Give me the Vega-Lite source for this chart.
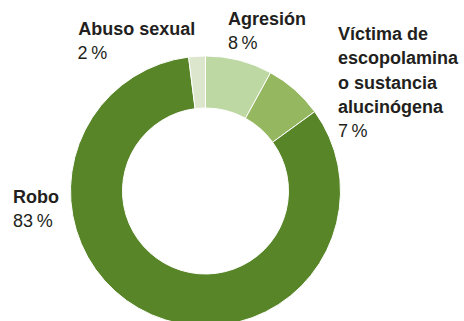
{
  "$schema": "https://vega.github.io/schema/vega-lite/v6.json",
  "width": 411,
  "height": 260,
  "autosize": {"type": "none"},
  "padding": {"left": 0, "top": 61, "right": 53, "bottom": 0},
  "background": "white",
  "config": {"view": {"stroke": null}},
  "data": {
    "values": [
      {"cat": "Agresión", "label": "Agresión", "pct": 8, "pctText": "8\u2009%", "orden": 1},
      {"cat": "Víctima", "label": "Víctima de\nescopolamina\no sustancia\nalucinógena", "pct": 7, "pctText": "7\u2009%", "orden": 2},
      {"cat": "Robo", "label": "Robo", "pct": 83, "pctText": "83\u2009%", "orden": 3},
      {"cat": "Abuso", "label": "Abuso sexual", "pct": 2, "pctText": "2\u2009%", "orden": 4}
    ]
  },
  "encoding": {
    "theta": {"field": "pct", "type": "quantitative", "stack": true},
    "order": {"field": "orden", "type": "quantitative"}
  },
  "layer": [
    {
      "mark": {"type": "arc", "radius": 135, "radius2": 83, "stroke": "white", "strokeWidth": 1},
      "encoding": {
        "color": {
          "field": "cat", "type": "nominal", "legend": null,
          "scale": {"domain": ["Agresión", "Víctima", "Robo", "Abuso"], "range": ["#bed8a3", "#94b75f", "#588528", "#dce6cd"]}
        }
      }
    },
    {
      "mark": {"type": "text", "radius": 150, "align": "left", "baseline": "alphabetic", "font": "Liberation Sans", "fontSize": 18, "fontWeight": "bold", "color": "#231f20", "dx": -14.8, "dy": -20.7},
      "encoding": {"text": {"condition": {"test": "datum.cat === 'Agresión'", "field": "label"}, "value": ""}}
    },
    {
      "mark": {"type": "text", "radius": 150, "align": "left", "baseline": "alphabetic", "font": "Liberation Sans", "fontSize": 18, "color": "#231f20", "dx": -14.8, "dy": 3.3},
      "encoding": {"text": {"condition": {"test": "datum.cat === 'Agresión'", "field": "pctText"}, "value": ""}}
    },
    {
      "mark": {"type": "text", "radius": 150, "align": "left", "baseline": "alphabetic", "font": "Liberation Sans", "fontSize": 18, "fontWeight": "bold", "color": "#231f20", "lineBreak": "\n", "lineHeight": 24.3, "dx": 33.3, "dy": -38.5},
      "encoding": {"text": {"condition": {"test": "datum.cat === 'Víctima'", "field": "label"}, "value": ""}}
    },
    {
      "mark": {"type": "text", "radius": 150, "align": "left", "baseline": "alphabetic", "font": "Liberation Sans", "fontSize": 18, "color": "#231f20", "dx": 33.3, "dy": 58.5},
      "encoding": {"text": {"condition": {"test": "datum.cat === 'Víctima'", "field": "pctText"}, "value": ""}}
    },
    {
      "mark": {"type": "text", "radius": 150, "align": "left", "baseline": "alphabetic", "font": "Liberation Sans", "fontSize": 18, "fontWeight": "bold", "color": "#231f20", "dx": -132.9, "dy": -125.7},
      "encoding": {"text": {"condition": {"test": "datum.cat === 'Robo'", "field": "label"}, "value": ""}}
    },
    {
      "mark": {"type": "text", "radius": 150, "align": "left", "baseline": "alphabetic", "font": "Liberation Sans", "fontSize": 18, "color": "#231f20", "dx": -132.9, "dy": -101.7},
      "encoding": {"text": {"condition": {"test": "datum.cat === 'Robo'", "field": "pctText"}, "value": ""}}
    },
    {
      "mark": {"type": "text", "radius": 150, "align": "left", "baseline": "alphabetic", "font": "Liberation Sans", "fontSize": 18, "fontWeight": "bold", "color": "#231f20", "dx": -117.8, "dy": -6.3},
      "encoding": {"text": {"condition": {"test": "datum.cat === 'Abuso'", "field": "label"}, "value": ""}}
    },
    {
      "mark": {"type": "text", "radius": 150, "align": "left", "baseline": "alphabetic", "font": "Liberation Sans", "fontSize": 18, "color": "#231f20", "dx": -118.5, "dy": 17.7},
      "encoding": {"text": {"condition": {"test": "datum.cat === 'Abuso'", "field": "pctText"}, "value": ""}}
    }
  ]
}
